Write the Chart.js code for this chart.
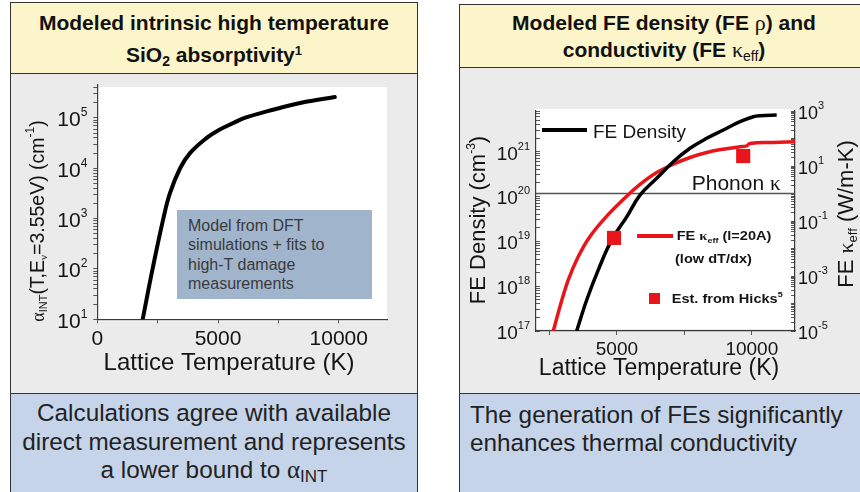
<!DOCTYPE html>
<html>
<head>
<meta charset="utf-8">
<script src="https://cdn.jsdelivr.net/npm/chart.js@4.4.1/dist/chart.umd.min.js"></script>
<style>
  html, body { margin: 0; padding: 0; }
  body { width: 860px; height: 492px; overflow: hidden; position: relative; background: #fff;
         font-family: "Liberation Sans", Arial, sans-serif; color: #161616; }
  .box { position: absolute; box-sizing: border-box; border: 1.5px solid #333; }
  .yellow { background: #fcf5c9; }
  .gray { background: #ebebeb; }
  .blue { background: #c6d4e9; }
  .t { position: absolute; white-space: nowrap; }
  .hd { font-weight: bold; font-size: 21px; line-height: 21px; text-align: center; color: #111; }
  .ft { font-size: 24.3px; line-height: 28.7px; color: #222; }
  .gk { font-family: "Liberation Serif", "DejaVu Serif", serif; font-weight: normal; }
  .lo { position: relative; top: 5px; font-size: 14px; }
  .hi { position: relative; top: -8px; font-size: 13px; }
  canvas { position: absolute; }
  .note { position: absolute; left: 177px; top: 210px; width: 195px; height: 89px; box-sizing: border-box;
          background: #a0b4cc; color: #3a3a3a; font-size: 16px; line-height: 19.5px; padding: 5.7px 0 0 11px; white-space: nowrap; }
</style>
</head>
<body>

<!-- left panel -->
<div class="box yellow" style="left:10px;top:2px;width:408px;height:72.5px"></div>
<div class="box gray"   style="left:10px;top:73px;width:408px;height:321.5px"></div>
<div class="box blue"   style="left:10px;top:393px;width:408px;height:110px"></div>

<!-- right panel -->
<div class="box yellow" style="left:459px;top:4px;width:420px;height:64px"></div>
<div class="box gray"   style="left:459px;top:66.5px;width:420px;height:328px"></div>
<div class="box blue"   style="left:459px;top:393px;width:420px;height:110px"></div>

<div class="t hd" style="left:10px;width:408px;top:12.2px">Modeled intrinsic high temperature</div>
<div class="t hd" style="left:10px;width:408px;top:43.9px">SiO<span class="lo" style="font-size:14px;top:4px">2</span> absorptivity<span class="hi" style="font-size:13px;top:-7px">1</span></div>

<div class="t hd" style="left:459px;width:410px;top:12.2px">Modeled FE density (FE <span class="gk" style="font-size:22px">ρ</span>) and</div>
<div class="t hd" style="left:459px;width:410px;top:38.9px">conductivity (FE <span class="gk" style="font-size:22px">κ</span><span class="lo" style="font-weight:normal;font-size:14px;top:4px">eff</span>)</div>

<canvas id="alphaChart" width="406" height="318" style="left:11px;top:75px"></canvas>
<canvas id="feChart" width="400" height="325" style="left:460px;top:68px"></canvas>

<div class="note">Model from DFT<br>simulations + fits to<br>high-T damage<br>measurements</div>

<div class="t ft" style="left:10px;width:408px;top:399px;text-align:center">Calculations agree with available<br>direct measurement and represents<br>a lower bound to <span class="gk" style="font-size:25px">α</span><span class="lo" style="font-size:17px;top:4px">INT</span></div>

<div class="t ft" style="left:470px;top:400.6px">The generation of FEs significantly<br>enhances thermal conductivity</div>

<script>
// ---------- intrinsic SiO2 absorptivity vs lattice temperature ----------
const alphaTempK = [1880, 2290, 2735, 3010, 3430, 3840, 4530, 5000, 5630, 6100, 7060, 8450, 9840];
const alphaInt   = [10, 100, 1000, 3200, 10000, 20000, 40000, 56000, 79000, 100000, 136000, 200000, 260000];
const alphaTempTicks  = [0, 2500, 5000, 7500, 10000];
const alphaTempLabels = [0, 5000, 10000];
const alphaDecades    = [1, 2, 3, 4, 5];

// ---------- free-electron density and conductivity ----------
const feTempK    = [3508, 3879, 4309, 4806, 5362, 5855, 6474, 7089, 7708, 8327, 8942, 9561, 10054, 10302, 10921];
const feDensity  = [1e17, 4.9e17, 2.3e18, 1.07e19, 3.5e19, 1.07e20, 2.53e20, 5.93e20, 1.18e21, 1.97e21,
                    3.02e21, 4.62e21, 5.97e21, 6.29e21, 6.51e21];
const kappaTempK = [2641, 2890, 3197, 3568, 4001, 4620, 5362, 5855, 6474, 7089, 7708, 8327, 8942, 9561,
                    9810, 9932, 10795, 11600];
const kappaEff   = [1e-5, 7.8e-5, 7.2e-4, 5.1e-3, 0.0275, 0.15, 0.8, 2.15, 5.77, 11.6, 20.4, 31, 40.9, 49.7,
                    54, 66, 72, 75.7];
const hicksTempK = [4891, 9680];
const hicksKappa = [0.0243, 23];
const phononKappa = 1;
const feTempRange = [2000, 11600];
const feTempTicks  = [2500, 5000, 7500, 10000];
const feTempLabels = [5000, 10000];
const densityDecades = [17, 18, 19, 20, 21];
const kappaDecades   = [-5, -3, -1, 1, 3];

const SANS = '"Liberation Sans", Arial, sans-serif';
const SERIF = '"Liberation Serif", "DejaVu Serif", serif';
const RED = '#e8161b';

function logTicks(fromExp, toExp, max) {
  const out = [];
  for (let e = fromExp; e <= toExp; e++) {
    for (let k = 1; k <= 9; k++) {
      const v = k * Math.pow(10, e);
      if (v <= max * 1.0001) out.push(v);
    }
  }
  return out;
}

// Draws a run of text pieces (sizes, raises, fonts) as one label.
function rich(ctx, parts, x, y, opt) {
  opt = opt || {};
  ctx.save();
  ctx.translate(x, y);
  if (opt.rot) ctx.rotate(opt.rot);
  if (opt.sx) ctx.scale(opt.sx, 1);
  const fontOf = p => (p.b ? 'bold ' : '') + p.s + 'px ' + (p.f || SANS);
  const widths = parts.map(p => { ctx.font = fontOf(p); return ctx.measureText(p.t).width; });
  const total = widths.reduce((a, b) => a + b, 0);
  let cx = opt.align === 'right' ? -total : opt.align === 'center' ? -total / 2 : 0;
  ctx.textAlign = 'left';
  ctx.textBaseline = 'alphabetic';
  ctx.fillStyle = opt.color || '#141414';
  parts.forEach((p, i) => { ctx.font = fontOf(p); ctx.fillText(p.t, cx, p.dy || 0); cx += widths[i]; });
  ctx.restore();
}

function fixedTicks(list) {
  return s => { s.ticks = list.map(v => ({ value: v })); };
}
const tickGrid = { display: true, drawOnChartArea: false, drawTicks: true, tickLength: 4, color: '#555', lineWidth: 1 };
const innerTickGrid = Object.assign({}, tickGrid, { tickLength: -4 });
const axisBorder = { display: true, color: '#3a3a3a', width: 1.2 };

// white plot background
const plotBackground = {
  id: 'plotBackground',
  beforeDraw(chart) {
    const { ctx, chartArea: a } = chart;
    ctx.save();
    ctx.fillStyle = '#ffffff';
    ctx.fillRect(a.left, a.top + chart.options.plugins.plotBackground.inset, a.right - a.left, a.bottom - a.top);
    ctx.restore();
  }
};

// ---------- left chart ----------
new Chart(document.getElementById('alphaChart'), {
  type: 'line',
  data: {
    datasets: [{
      data: alphaTempK.map((t, i) => ({ x: t, y: alphaInt[i] })),
      borderColor: '#000', borderWidth: 4, pointRadius: 0,
      tension: 0.4, borderCapStyle: 'round'
    }]
  },
  options: {
    responsive: false, animation: false, devicePixelRatio: 1,
    layout: { padding: { top: 10, right: 30, left: 0, bottom: 0 } },
    plugins: { legend: { display: false }, tooltip: { enabled: false }, plotBackground: { inset: 2 } },
    scales: {
      x: {
        type: 'linear', min: 0, max: 12000, bounds: 'data',
        afterBuildTicks: fixedTicks(alphaTempTicks),
        ticks: { display: false }, grid: tickGrid, border: axisBorder,
        afterFit: s => { s.height = 73.7; }
      },
      y: {
        type: 'logarithmic', min: 10, max: 4.5e5, bounds: 'data',
        afterBuildTicks: fixedTicks(logTicks(1, 5, 4.5e5)),
        ticks: { display: false }, grid: tickGrid, border: axisBorder,
        afterFit: s => { s.width = 86.3; }
      }
    }
  },
  plugins: [plotBackground, {
    id: 'alphaLabels',
    afterDraw(chart) {
      const { ctx, chartArea: a, scales } = chart;
      alphaDecades.forEach(e => {
        const y = scales.y.getPixelForValue(Math.pow(10, e));
        rich(ctx, [{ t: '10', s: 21 }, { t: String(e), s: 12, dy: -10 }], a.left - 10, y + 8.5, { align: 'right' });
      });
      alphaTempLabels.forEach(v => {
        rich(ctx, [{ t: String(v), s: 21 }], scales.x.getPixelForValue(v), a.bottom + 25.7, { align: 'center' });
      });
      rich(ctx, [{ t: 'Lattice Temperature (K)', s: 24 }], 218, a.bottom + 50.7, { align: 'center' });
      rich(ctx, [
        { t: 'α', s: 18, f: SERIF }, { t: 'INT', s: 11, dy: 3 },
        { t: '(T,E', s: 19.5 }, { t: 'ν', s: 11, dy: 3, f: SERIF },
        { t: '=3.55eV) (cm', s: 19.5 }, { t: '-1', s: 12, dy: -10 }, { t: ')', s: 19.5 }
      ], 32.5, 146, { align: 'center', rot: -Math.PI / 2 });
    }
  }]
});

// ---------- right chart ----------
new Chart(document.getElementById('feChart'), {
  type: 'line',
  data: {
    datasets: [
      {
        type: 'scatter', label: 'Est. from Hicks', order: 0, yAxisID: 'yR',
        data: hicksTempK.map((t, i) => ({ x: t, y: hicksKappa[i] })),
        pointStyle: 'rect', pointRadius: 10, backgroundColor: RED, borderWidth: 0, showLine: false
      },
      {
        label: 'FE Density', order: 1, yAxisID: 'yL',
        data: feTempK.map((t, i) => ({ x: t, y: feDensity[i] })),
        borderColor: '#000', borderWidth: 3.5, pointRadius: 0, tension: 0.4
      },
      {
        label: 'FE kappa eff', order: 2, yAxisID: 'yR',
        data: kappaTempK.map((t, i) => ({ x: t, y: kappaEff[i] })),
        borderColor: RED, borderWidth: 3.5, pointRadius: 0, tension: 0.4
      },
      {
        label: 'Phonon kappa', order: 3, yAxisID: 'yR',
        data: feTempRange.map(t => ({ x: t, y: phononKappa })),
        borderColor: '#555', borderWidth: 1.5, pointRadius: 0
      }
    ]
  },
  options: {
    responsive: false, animation: false, devicePixelRatio: 1,
    layout: { padding: { top: 43, right: 0, left: 0, bottom: 0 } },
    plugins: { legend: { display: false }, tooltip: { enabled: false }, plotBackground: { inset: -2 } },
    scales: {
      x: {
        type: 'linear', min: feTempRange[0], max: feTempRange[1], bounds: 'data',
        afterBuildTicks: fixedTicks(feTempTicks),
        ticks: { display: false }, grid: tickGrid, border: axisBorder,
        afterFit: s => { s.height = 62; }
      },
      yL: {
        type: 'logarithmic', position: 'left', min: 1e17, max: 8e21, bounds: 'data',
        afterBuildTicks: fixedTicks(logTicks(17, 21, 8e21)),
        ticks: { display: false }, grid: innerTickGrid, border: axisBorder,
        afterFit: s => { s.width = 76; }
      },
      yR: {
        type: 'logarithmic', position: 'right', min: 1e-5, max: 1e3, bounds: 'data',
        afterBuildTicks: fixedTicks(logTicks(-5, 3, 1e3)),
        ticks: { display: false }, grid: innerTickGrid, border: axisBorder,
        afterFit: s => { s.width = 65; }
      }
    }
  },
  plugins: [plotBackground, {
    id: 'feLabels',
    afterDraw(chart) {
      const { ctx, chartArea: a, scales } = chart;
      densityDecades.forEach(e => {
        const y = scales.yL.getPixelForValue(Math.pow(10, e));
        rich(ctx, [{ t: '10', s: 19 }, { t: String(e), s: 11, dy: -10 }], a.left - 6, y + 8, { align: 'right' });
      });
      kappaDecades.forEach(e => {
        const y = scales.yR.getPixelForValue(Math.pow(10, e));
        rich(ctx, [{ t: '10', s: 18 }, { t: String(e), s: 11, dy: -10 }], a.right + 3, y + 8, { align: 'left' });
      });
      feTempLabels.forEach(v => {
        rich(ctx, [{ t: String(v), s: 19 }], scales.x.getPixelForValue(v), a.bottom + 24, { align: 'center' });
      });
      rich(ctx, [{ t: 'Lattice Temperature (K)', s: 23 }], 199, a.bottom + 44, { align: 'center' });
      rich(ctx, [{ t: 'FE Density (cm', s: 22 }, { t: '-3', s: 12, dy: -10 }, { t: ')', s: 22 }],
           25, 152, { align: 'center', rot: -Math.PI / 2 });
      rich(ctx, [{ t: 'FE ', s: 22 }, { t: 'κ', s: 22, f: SERIF }, { t: 'eff', s: 13, dy: 4 }, { t: ' (W/m-K)', s: 22 }],
           393, 146, { align: 'center', rot: -Math.PI / 2 });

      // phonon conductivity label above its line
      const py = scales.yR.getPixelForValue(phononKappa);
      rich(ctx, [{ t: 'Phonon ', s: 21 }, { t: 'κ', s: 21, f: SERIF }], 231.7, py - 3.3, { align: 'left' });

      // legend
      ctx.save();
      ctx.lineWidth = 4;
      ctx.strokeStyle = '#000';
      ctx.beginPath(); ctx.moveTo(82, 62); ctx.lineTo(127, 62); ctx.stroke();
      ctx.strokeStyle = RED;
      ctx.beginPath(); ctx.moveTo(177, 168); ctx.lineTo(213, 168); ctx.stroke();
      ctx.fillStyle = RED;
      ctx.fillRect(189, 225, 11, 11);
      ctx.restore();
      rich(ctx, [{ t: 'FE Density', s: 19 }], 133, 70.3);
      rich(ctx, [{ t: 'FE ', s: 13, b: true }, { t: 'κ', s: 13, b: true, f: SERIF }, { t: 'eff', s: 8, b: true, dy: 3 },
                 { t: ' (l=20A)', s: 13, b: true }], 216.7, 172, { sx: 1.12 });
      rich(ctx, [{ t: '(low dT/dx)', s: 13, b: true }], 215, 195.3, { sx: 1.12 });
      rich(ctx, [{ t: 'Est. from Hicks', s: 13, b: true }, { t: '5', s: 8, b: true, dy: -6 }], 211.7, 235.3, { sx: 1.12 });
    }
  }]
});
</script>
</body>
</html>
